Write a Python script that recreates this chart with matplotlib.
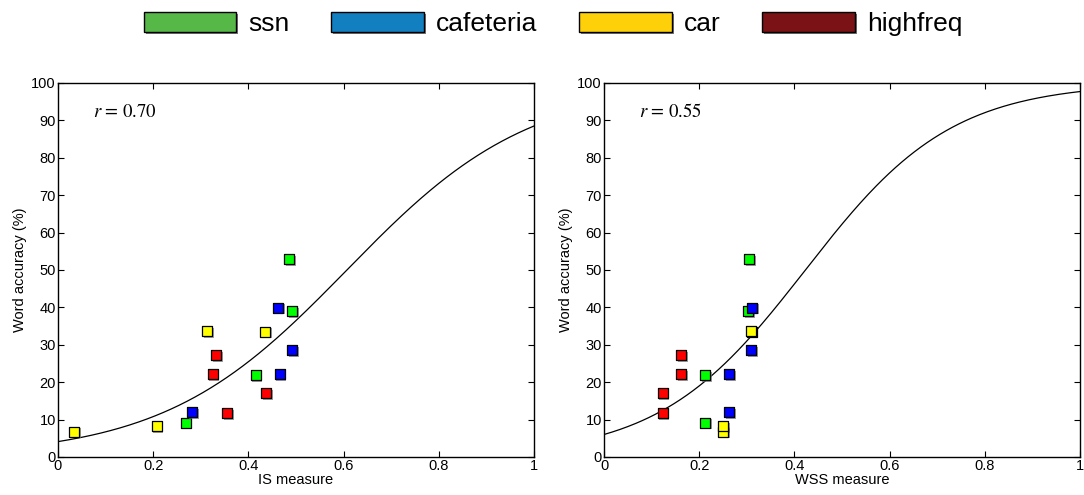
import numpy as np
import matplotlib
matplotlib.use("Agg")
import matplotlib.pyplot as plt
from matplotlib.patches import Patch
import matplotlib.patheffects as pe

plt.rcParams["font.family"] = ["Liberation Sans", "DejaVu Sans"]

groups = ["ssn", "cafeteria", "car", "highfreq"]
marker_colors = ["#00ff00", "#0000ff", "#ffff00", "#ff0000"]
legend_colors = ["#56b847", "#127fc1", "#fdd00a", "#7b1216"]

# word accuracy (%) per condition, same for both panels
acc_ssn = [9.2, 21.8, 39.0, 52.9]
acc_caf = [12.0, 22.1, 28.5, 39.9]
acc_car = [6.8, 8.3, 33.5, 33.7]
acc_hf = [11.8, 17.0, 22.1, 27.2]

# IS measure
is_ssn = [0.268, 0.415, 0.492, 0.485]
is_caf = [0.282, 0.466, 0.492, 0.462]
is_car = [0.034, 0.207, 0.435, 0.314]
is_hf = [0.355, 0.437, 0.325, 0.332]

# WSS measure
wss_ssn = [0.213, 0.213, 0.303, 0.305]
wss_caf = [0.263, 0.263, 0.309, 0.311]
wss_car = [0.251, 0.251, 0.310, 0.309]
wss_hf = [0.123, 0.123, 0.162, 0.162]

# fitted logistic curves (intercept, slope)
fit_is = (-3.15, 5.19)
fit_wss = (-2.75, 6.5)

r_is = 0.70
r_wss = 0.55

acc = [acc_ssn, acc_caf, acc_car, acc_hf]
panels = [
    ("IS measure", [is_ssn, is_caf, is_car, is_hf], fit_is, r_is),
    ("WSS measure", [wss_ssn, wss_caf, wss_car, wss_hf], fit_wss, r_wss),
]

fig = plt.figure(figsize=(10.84, 4.95), dpi=100)
axes = [fig.add_axes([0.0535, 0.0768, 0.4391, 0.7556]),
        fig.add_axes([0.5572, 0.0768, 0.4391, 0.7556])]

shadow = [pe.SimplePatchShadow(offset=(1.2, -1.2), shadow_rgbFace="#777777", alpha=0.7), pe.Normal()]

for ax, (xlabel, xs, fit, r) in zip(axes, panels):
    xx = np.linspace(0, 1, 300)
    a, b = fit
    ax.plot(xx, 100 / (1 + np.exp(-(a + b * xx))), color="black", lw=0.9, zorder=2)
    for x, y, c in zip(xs, acc, marker_colors):
        sc = ax.scatter(x, y, s=52, marker="s", c=c, edgecolors="black", linewidths=0.9, zorder=3)
        sc.set_path_effects(shadow)
    ax.set_xlim(0, 1)
    ax.set_ylim(0, 100)
    ax.set_xticks([0, 0.2, 0.4, 0.6, 0.8, 1])
    ax.set_xticklabels(["0", "0.2", "0.4", "0.6", "0.8", "1"])
    ax.set_yticks(range(0, 101, 10))
    ax.tick_params(direction="in", top=True, right=True, length=4, width=0.8, labelsize=10.5, pad=1.5)
    for s in ax.spines.values():
        s.set_linewidth(1.0)
    ax.set_xlabel(xlabel, fontsize=10.5, labelpad=0)
    ax.set_ylabel("Word accuracy (%)", fontsize=10.5, labelpad=3)
    ax.text(0.074, 92.2, r"$r$ = %.2f" % r, fontsize=13.5, family="STIXGeneral",
            ha="left", va="center", math_fontfamily="stix")

handles = [Patch(facecolor=c, edgecolor="black", linewidth=1.0) for c in legend_colors]
leg = fig.legend(handles, groups, loc="upper center", bbox_to_anchor=(0.51, 1.024), ncol=4,
                 frameon=False, fontsize=19, handlelength=3.5, handleheight=0.78,
                 handletextpad=0.45, columnspacing=1.6)
for h in leg.legend_handles:
    h.set_path_effects([pe.SimplePatchShadow(offset=(1.5, -1.5), shadow_rgbFace="#555555", alpha=0.8), pe.Normal()])

fig.savefig("out.png", dpi=100)
